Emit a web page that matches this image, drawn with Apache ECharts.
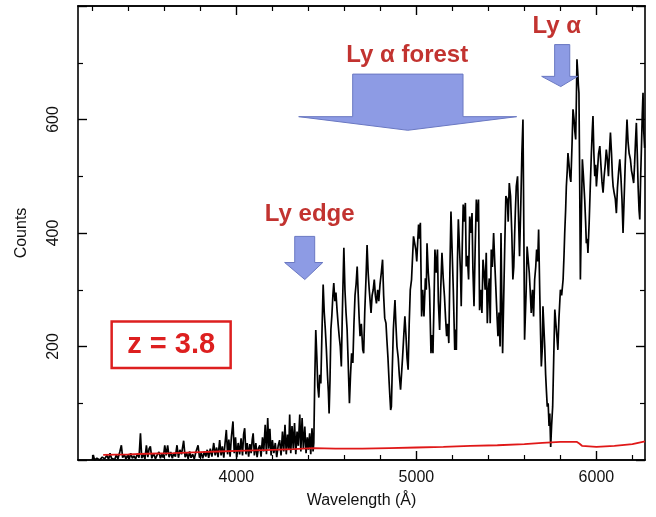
<!DOCTYPE html>
<html>
<head>
<meta charset="utf-8">
<title>z = 3.8 spectrum</title>
<script src="https://cdn.jsdelivr.net/npm/echarts@6/dist/echarts.min.js"></script>
<style>
  html, body { margin: 0; padding: 0; background: #fff; }
  #chart { width: 656px; height: 517px; }
</style>
</head>
<body>
<div id="chart"></div>
<script>
// axis ranges and ticks
const xMin = 3120
const xMax = 6270
const xMajorTicks = [4000, 5000, 6000]
const xMinorTicks = [3200, 3400, 3600, 3800, 4200, 4400, 4600, 4800, 5200, 5400, 5600, 5800, 6200]
const yMin = 0
const yMax = 800
const yLabels = [200, 400, 600]

// quasar spectrum [wavelength (A), counts]
const spectrum = [
  [3200, 0], [3205, 9], [3212, 0], [3225, 3], [3240, 0], [3255, 5], [3268, 2], [3280, 8], [3290, 1], [3298, 12],
  [3306, 3], [3315, 6], [3324, 1], [3333, 9], [3342, 2], [3352, 14], [3361, 26], [3368, 4], [3377, 10], [3386, 2],
  [3395, 8], [3404, 1], [3413, 12], [3422, 3], [3431, 7], [3440, 2], [3450, 11], [3459, 4], [3467, 47], [3474, 3],
  [3483, 10], [3492, 2], [3500, 26], [3508, 5], [3515, 20], [3522, 24], [3530, 3], [3540, 12], [3550, 2], [3560, 9],
  [3570, 14], [3578, 3], [3586, 10], [3594, 4], [3602, 26], [3610, 8], [3618, 26], [3626, 5], [3635, 14], [3644, 3],
  [3652, 12], [3661, 6], [3670, 26], [3678, 4], [3686, 18], [3695, 10], [3707, 34], [3715, 5], [3724, 12], [3732, 2],
  [3740, 15], [3748, 4], [3757, 10], [3766, 2], [3775, 14], [3787, 26], [3795, 4], [3804, 12], [3813, 3], [3821, 15],
  [3830, 6], [3838, 18], [3846, 4], [3855, 20], [3864, 6], [3874, 30], [3882, 8], [3890, 22], [3898, 5], [3907, 35],
  [3915, 8], [3922, 24], [3930, 4], [3937, 30], [3944, 53], [3951, 10], [3958, 36], [3965, 6], [3972, 40], [3981, 68],
  [3988, 12], [3995, 40], [4002, 5], [4010, 30], [4018, 10], [4026, 38], [4034, 8], [4040, 45], [4046, 56], [4053, 10],
  [4060, 30], [4068, 6], [4075, 28], [4082, 12], [4088, 36], [4093, 47], [4100, 8], [4108, 30], [4115, 5], [4122, 20],
  [4130, 26], [4137, 6], [4145, 40], [4152, 15], [4160, 62], [4167, 10], [4174, 74], [4180, 20], [4186, 55], [4193, 8],
  [4200, 35], [4208, 12], [4216, 30], [4224, 5], [4232, 25], [4240, 35], [4248, 8], [4256, 50], [4263, 15], [4270, 62],
  [4277, 10], [4284, 45], [4291, 18], [4296, 80], [4302, 12], [4309, 60], [4316, 20], [4323, 65], [4330, 10], [4337, 50],
  [4344, 25], [4352, 80], [4358, 15], [4365, 74], [4372, 20], [4380, 59], [4387, 12], [4394, 40], [4400, 18], [4407, 47],
  [4413, 10], [4420, 56], [4426, 15], [4430, 30],
  [4435, 135], [4441, 229], [4447, 180], [4452, 130], [4458, 110], [4463, 150], [4469, 135], [4475, 220], [4482, 309], [4488, 260],
  [4494, 230], [4500, 194], [4506, 150], [4511, 120], [4515, 82], [4520, 140], [4525, 230], [4530, 253], [4536, 290], [4541, 312],
  [4547, 280], [4553, 295], [4559, 265], [4565, 240], [4571, 218], [4577, 200], [4583, 165], [4588, 250], [4593, 320], [4597, 374],
  [4603, 300], [4609, 260], [4615, 230], [4620, 182], [4624, 140], [4628, 100], [4634, 150], [4640, 188], [4647, 171], [4653, 240],
  [4659, 290], [4665, 310], [4671, 341], [4677, 290], [4682, 250], [4687, 218], [4694, 240], [4702, 194], [4707, 188], [4713, 260],
  [4720, 320], [4726, 379], [4732, 330], [4738, 300], [4743, 280], [4748, 259], [4754, 290], [4760, 300], [4766, 318], [4772, 290],
  [4778, 276], [4785, 300], [4791, 280], [4798, 310], [4805, 330], [4812, 353], [4818, 290], [4824, 250], [4831, 241], [4836, 212],
  [4842, 180], [4848, 140], [4853, 110], [4857, 88], [4861, 94], [4866, 160], [4872, 230], [4877, 260], [4881, 282], [4886, 240],
  [4892, 200], [4899, 180], [4905, 150], [4912, 124], [4917, 124], [4923, 180], [4930, 220], [4936, 253], [4942, 220], [4948, 180],
  [4954, 159], [4960, 240], [4966, 300], [4973, 318], [4979, 360], [4984, 394], [4991, 397], [4997, 370], [5002, 350], [5006, 347],
  [5012, 415], [5017, 390], [5022, 418], [5029, 253], [5035, 300], [5042, 253], [5050, 320], [5055, 300], [5059, 382], [5066, 330],
  [5073, 300], [5081, 188], [5086, 220], [5092, 188], [5098, 280], [5103, 371], [5110, 330], [5117, 371], [5122, 280], [5129, 229],
  [5135, 300], [5142, 365], [5149, 320], [5156, 288], [5162, 250], [5168, 218], [5174, 240], [5180, 206], [5186, 330], [5192, 438],
  [5198, 435], [5205, 300], [5213, 194], [5218, 230], [5222, 194], [5228, 350], [5233, 424], [5240, 424], [5245, 330], [5249, 271],
  [5255, 380], [5260, 450], [5266, 420], [5272, 453], [5277, 341], [5283, 360], [5290, 318], [5296, 429], [5303, 400], [5309, 435],
  [5314, 335], [5320, 271], [5327, 380], [5333, 459], [5340, 420], [5345, 459], [5351, 264], [5358, 300], [5364, 259], [5370, 353],
  [5376, 330], [5382, 300], [5388, 365], [5394, 241], [5400, 300], [5405, 320], [5410, 241], [5416, 371], [5422, 340], [5429, 400],
  [5435, 350], [5441, 306], [5447, 260], [5453, 218], [5459, 260], [5465, 200], [5470, 400], [5474, 300], [5479, 188], [5486, 188],
  [5491, 380], [5497, 465], [5505, 459], [5510, 420], [5516, 488], [5523, 465], [5530, 400], [5536, 318], [5541, 340], [5546, 400],
  [5550, 440], [5555, 482], [5562, 500], [5568, 420], [5573, 359], [5580, 450], [5586, 540], [5592, 600], [5597, 400], [5601, 212],
  [5605, 212], [5610, 300], [5615, 376], [5620, 376], [5627, 330], [5632, 300], [5638, 259], [5645, 300], [5651, 253], [5657, 318],
  [5663, 340], [5668, 371], [5674, 350], [5679, 406], [5685, 300], [5690, 220], [5694, 165], [5700, 200], [5703, 271], [5708, 271],
  [5713, 200], [5718, 150], [5722, 124], [5727, 94], [5732, 100], [5737, 60], [5741, 82], [5746, 23], [5751, 60], [5757, 94],
  [5763, 180], [5769, 265], [5775, 240], [5780, 220], [5786, 194], [5792, 250], [5800, 300], [5807, 290], [5815, 318], [5820, 360],
  [5824, 400], [5829, 440], [5833, 482], [5838, 510], [5842, 541], [5848, 520], [5853, 500], [5858, 490], [5861, 488], [5865, 560],
  [5870, 618], [5876, 600], [5880, 580], [5885, 565], [5889, 640], [5892, 706], [5897, 680], [5900, 660], [5903, 647], [5907, 500],
  [5911, 318], [5916, 420], [5922, 530], [5928, 500], [5935, 459], [5940, 420], [5944, 382], [5949, 390], [5953, 365], [5960, 420],
  [5966, 482], [5972, 540], [5977, 580], [5981, 606], [5986, 540], [5991, 500], [5996, 520], [6000, 482], [6006, 510], [6012, 540],
  [6019, 553], [6025, 520], [6031, 490], [6037, 471], [6043, 500], [6049, 520], [6055, 547], [6061, 530], [6067, 500], [6072, 540],
  [6078, 577], [6084, 540], [6089, 500], [6093, 482], [6099, 470], [6105, 460], [6111, 435], [6117, 480], [6124, 510], [6130, 530],
  [6136, 500], [6142, 460], [6148, 400], [6154, 460], [6160, 520], [6165, 560], [6170, 600], [6176, 560], [6182, 540], [6189, 530],
  [6195, 510], [6201, 500], [6207, 488], [6212, 520], [6217, 560], [6222, 594], [6227, 540], [6232, 480], [6237, 440], [6241, 424],
  [6246, 500], [6251, 560], [6255, 610], [6259, 647], [6263, 580], [6268, 550]
]

// error / sky level (red)
const noise = [
  [3260, 9], [3400, 10], [3500, 11], [3650, 12], [3800, 14], [3900, 15], [4000, 16], [4100, 17], [4200, 18], [4320, 19],
  [4430, 21], [4550, 20], [4700, 20], [4850, 21], [5000, 22], [5150, 23], [5300, 25], [5450, 26], [5600, 28], [5700, 30],
  [5800, 32], [5890, 32], [5905, 29], [5920, 25], [6000, 23], [6100, 25], [6200, 28], [6270, 33]
]

const annoRed = '#c23330'
const zRed = '#dd1f1f'
const arrowFill = '#8d9be4'
const arrowStroke = '#6a78c2'

const chart = echarts.init(document.getElementById('chart'))

const axisText = { color: '#111', fontFamily: 'Liberation Sans, Arial, sans-serif', fontSize: 16 }
const boxLine = { show: true, lineStyle: { color: '#000', width: 1.6 } }

const xAxisBase = {
  type: 'value',
  min: xMin,
  max: xMax,
  splitLine: { show: false },
  axisLine: boxLine
}

const option = {
  animation: false,
  backgroundColor: '#fff',
  grid: { left: 78, right: 11, top: 6, bottom: 57, containLabel: false },
  xAxis: [
    {
      ...xAxisBase,
      position: 'bottom',
      name: 'Wavelength (Å)',
      nameLocation: 'middle',
      nameGap: 33,
      nameTextStyle: axisText,
      axisTick: { inside: true, length: 9, customValues: xMajorTicks, lineStyle: { color: '#000', width: 1.4 } },
      axisLabel: { ...axisText, margin: 10, customValues: xMajorTicks, formatter: v => String(v) }
    },
    {
      ...xAxisBase,
      position: 'bottom',
      axisTick: { inside: true, length: 5, customValues: xMinorTicks, lineStyle: { color: '#000', width: 1.2 } },
      axisLabel: { show: false }
    },
    {
      ...xAxisBase,
      position: 'top',
      axisTick: { inside: true, length: 9, customValues: xMajorTicks, lineStyle: { color: '#000', width: 1.4 } },
      axisLabel: { show: false }
    },
    {
      ...xAxisBase,
      position: 'top',
      axisTick: { inside: true, length: 5, customValues: xMinorTicks, lineStyle: { color: '#000', width: 1.2 } },
      axisLabel: { show: false }
    }
  ],
  yAxis: [
    {
      type: 'value',
      position: 'left',
      min: yMin,
      max: yMax,
      interval: 200,
      name: 'Counts',
      nameLocation: 'middle',
      nameGap: 48,
      nameRotate: 90,
      nameTextStyle: axisText,
      splitLine: { show: false },
      axisLine: boxLine,
      axisTick: { inside: true, length: 9, lineStyle: { color: '#000', width: 1.4 } },
      minorTick: { show: true, splitNumber: 2, length: 5, lineStyle: { color: '#000', width: 1.2 } },
      axisLabel: {
        ...axisText,
        rotate: 90,
        margin: 16,
        formatter: v => (yLabels.includes(v) ? String(v) : '')
      }
    },
    {
      type: 'value',
      position: 'right',
      min: yMin,
      max: yMax,
      interval: 200,
      splitLine: { show: false },
      axisLine: boxLine,
      axisTick: { inside: true, length: 9, lineStyle: { color: '#000', width: 1.4 } },
      minorTick: { show: true, splitNumber: 2, length: 5, lineStyle: { color: '#000', width: 1.2 } },
      axisLabel: { show: false }
    }
  ],
  series: [
    {
      name: 'spectrum',
      type: 'line',
      data: spectrum,
      showSymbol: false,
      lineStyle: { color: '#000', width: 1.7 },
      z: 2
    },
    {
      name: 'noise',
      type: 'line',
      data: noise,
      showSymbol: false,
      lineStyle: { color: '#e01818', width: 1.8 },
      z: 3
    }
  ]
}

chart.setOption(option)

// annotations, placed in data coordinates
const px = (x, y) => chart.convertToPixel({ gridIndex: 0 }, [x, y])

const arrow = (x0, x1, yTop, yBase, hx0, hx1, tipX, tipY) => ({
  type: 'polygon',
  shape: {
    points: [
      px(x0, yTop), px(x1, yTop), px(x1, yBase), px(hx1, yBase),
      px(tipX, tipY), px(hx0, yBase), px(x0, yBase)
    ]
  },
  style: { fill: arrowFill, stroke: arrowStroke, lineWidth: 1 },
  z: 10
})

const label = (text, x, y, size, color) => {
  const p = px(x, y)
  return {
    type: 'text',
    x: p[0],
    y: p[1],
    style: {
      text: text,
      fill: color,
      font: 'bold ' + size + 'px Liberation Sans, Arial, sans-serif',
      align: 'center',
      verticalAlign: 'middle'
    },
    z: 11
  }
}

const boxTL = px(3307, 244)
const boxBR = px(3968, 162)

chart.setOption({
  graphic: [
    arrow(4646, 5259, 680, 605, 4346, 5557, 4952, 581),
    arrow(5768, 5852, 732, 676, 5696, 5896, 5802, 658),
    arrow(4324, 4435, 394, 348, 4268, 4480, 4380, 318),
    label('Ly α forest', 4949, 713, 24, annoRed),
    label('Ly α', 5780, 764, 24, annoRed),
    label('Ly edge', 4407, 432, 24, annoRed),
    {
      type: 'rect',
      shape: { x: boxTL[0], y: boxTL[1], width: boxBR[0] - boxTL[0], height: boxBR[1] - boxTL[1] },
      style: { fill: '#fff', stroke: zRed, lineWidth: 2.5 },
      z: 10
    },
    label('z = 3.8', 3638, 203, 29, zRed)
  ]
})
</script>
</body>
</html>
